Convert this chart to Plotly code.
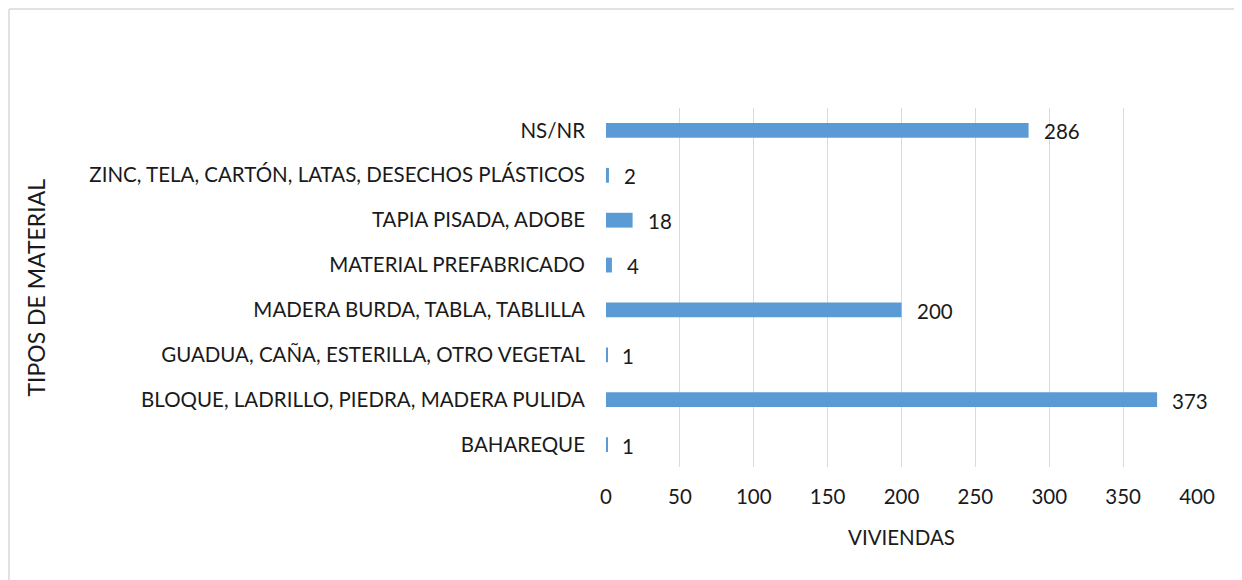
import plotly.graph_objects as go

materiales = [
    "BAHAREQUE",
    "BLOQUE, LADRILLO, PIEDRA, MADERA PULIDA",
    "GUADUA, CAÑA, ESTERILLA, OTRO VEGETAL",
    "MADERA BURDA, TABLA, TABLILLA",
    "MATERIAL PREFABRICADO",
    "TAPIA PISADA, ADOBE",
    "ZINC, TELA, CARTÓN, LATAS, DESECHOS PLÁSTICOS",
    "NS/NR",
]
viviendas = [1, 373, 1, 200, 4, 18, 2, 286]
x_ticks = [0, 50, 100, 150, 200, 250, 300, 350, 400]

font_family = "Lato, Open Sans, sans-serif"
text_color = "#1a1a1a"
fs = 20.5

fig = go.Figure()
fig.add_trace(go.Bar(
    y=materiales,
    x=viviendas,
    orientation="h",
    marker=dict(color="#5B9BD5", line=dict(width=0)),
    hoverinfo="x+y",
))

# etiquetas de datos a la derecha de cada barra
for m, v in zip(materiales, viviendas):
    fig.add_annotation(x=v, y=m, text=str(v), showarrow=False,
                       xanchor="left", xshift=13, yshift=-1,
                       font=dict(size=fs, color=text_color, family=font_family))

# titulo del eje y, pegado al borde izquierdo
fig.add_annotation(x=-0.966, y=0.5, xref="paper", yref="paper",
                   text="TIPOS DE MATERIAL", textangle=-90, showarrow=False,
                   xanchor="center", yanchor="middle",
                   font=dict(size=23, color=text_color, family=font_family))

# borde del grafico: solo se ven el lado superior y el izquierdo
borde = dict(color="#D9D9D9", width=1.5)
fig.add_shape(type="line", xref="paper", yref="paper",
              x0=-1.0102, x1=2, y0=1.2758, y1=1.2758, line=borde, layer="below")
fig.add_shape(type="line", xref="paper", yref="paper",
              x0=-1.0102, x1=-1.0102, y0=-1, y1=1.2758, line=borde, layer="below")

fig.update_layout(
    width=1234, height=572,
    margin=dict(l=598, r=45, t=100, b=113),
    paper_bgcolor="white", plot_bgcolor="white",
    bargap=0.67,
    showlegend=False,
    font=dict(family=font_family, size=fs, color=text_color),
)
fig.update_xaxes(
    range=[0, 400], tickvals=x_ticks,
    showgrid=True, gridcolor="#D9D9D9", gridwidth=1.3,
    zeroline=False, showline=False,
    ticks="", ticklabelstandoff=15,
    tickfont=dict(size=fs),
    title=dict(text="VIVIENDAS", font=dict(size=fs), standoff=24),
)
fig.update_yaxes(
    showgrid=False, zeroline=False, showline=False,
    ticks="", ticklabelstandoff=20,
    tickfont=dict(size=fs),
    automargin=False,
)

fig.write_html("out.html")
